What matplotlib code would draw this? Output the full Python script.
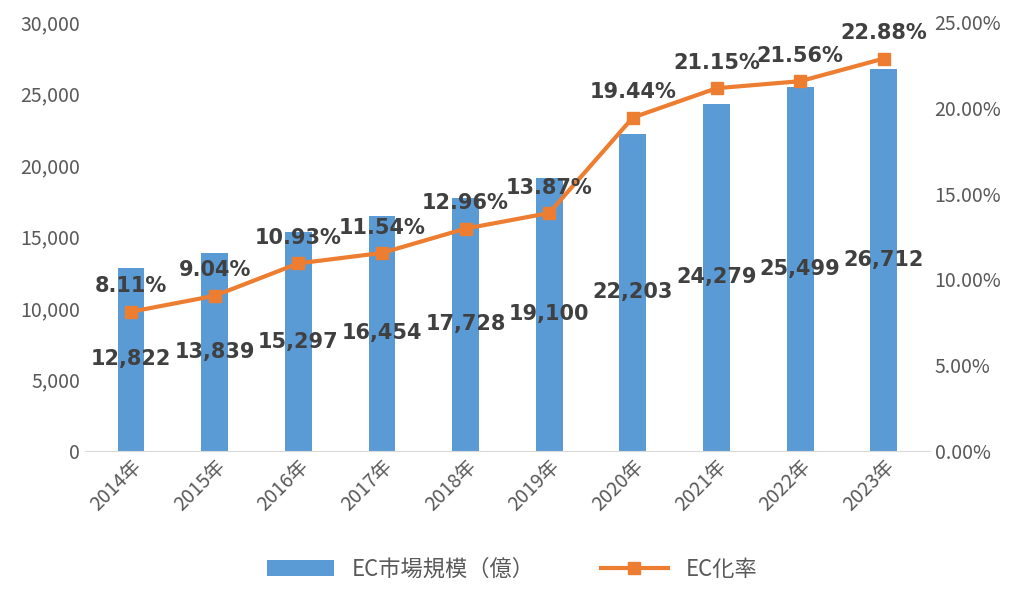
import matplotlib
matplotlib.use('Agg')
import matplotlib.pyplot as plt

plt.rcParams['font.family'] = ['Noto Sans CJK JP', 'DejaVu Sans']

years = ['2014年', '2015年', '2016年', '2017年', '2018年', '2019年',
         '2020年', '2021年', '2022年', '2023年']
market = [12822, 13839, 15297, 16454, 17728, 19100, 22203, 24279, 25499, 26712]
rate = [8.11, 9.04, 10.93, 11.54, 12.96, 13.87, 19.44, 21.15, 21.56, 22.88]

blue = '#5B9BD5'
orange = '#ED7D31'
grey = '#595959'

fig = plt.figure(figsize=(10.24, 6.01), dpi=100)
ax = fig.add_axes([0.083, 0.25, 0.825, 0.713])
ax2 = ax.twinx()

x = range(len(years))
bars = ax.bar(x, market, width=0.32, color=blue, label='EC市場規模（億）')
ax.set_ylim(0, 30000)
ax.set_yticks(range(0, 30001, 5000))
ax.set_yticklabels([f'{v:,}' for v in range(0, 30001, 5000)])
ax.set_xlim(-0.55, len(years) - 0.45)
ax.set_xticks(list(x))
ax.set_xticklabels(years, rotation=45, ha='right', rotation_mode='anchor')
for i, v in enumerate(market):
    ax.text(i, v / 2, f'{v:,}', ha='center', va='center', fontsize=15,
            fontweight='bold', color='#404040', family='DejaVu Sans')

line, = ax2.plot(x, rate, color=orange, lw=3, marker='s', ms=8, label='EC化率')
ax2.set_ylim(0, 25)
ax2.set_yticks(range(0, 26, 5))
ax2.set_yticklabels([f'{v:.2f}%' for v in range(0, 26, 5)])
for i, v in enumerate(rate):
    ax2.text(i, v + 0.9, f'{v:.2f}%', ha='center', va='bottom', fontsize=15,
             fontweight='bold', color='#404040', family='DejaVu Sans')

for a in (ax, ax2):
    for s in a.spines.values():
        s.set_visible(False)
    a.tick_params(length=0, labelsize=14, colors=grey)
ax.spines['bottom'].set_visible(True)
ax.spines['bottom'].set_color('#d9d9d9')

fig.legend([bars, line], ['EC市場規模（億）', 'EC化率'], loc='lower center',
           ncol=2, frameon=False, fontsize=16, bbox_to_anchor=(0.5, 0.0),
           columnspacing=3, handlelength=3, labelcolor=grey)
fig.savefig('out.png')
